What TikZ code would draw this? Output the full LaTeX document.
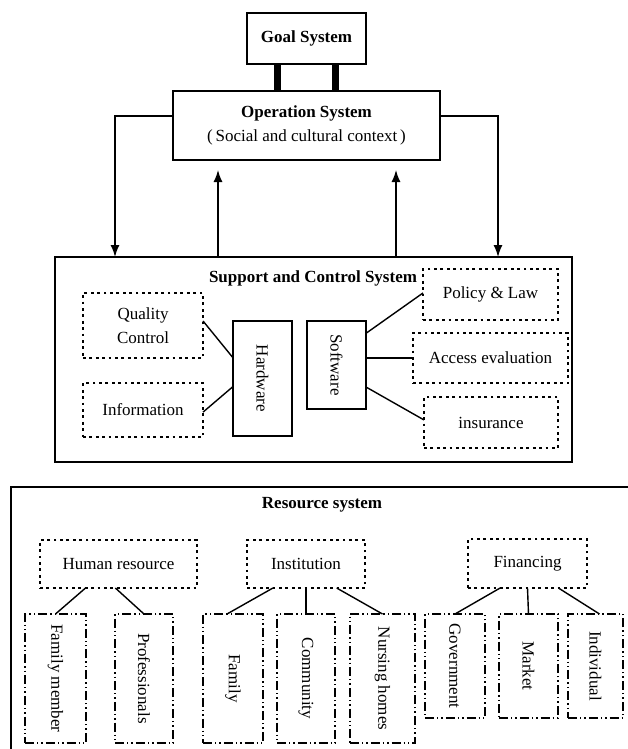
\documentclass[tikz,border=0pt]{standalone}
\usepackage{fontspec}
\setmainfont{Liberation Serif}
\usetikzlibrary{arrows.meta,calc}
\tikzset{
  every node/.style={font=\fontsize{17}{24}\selectfont, inner sep=0pt, outer sep=0pt},
  solidbox/.style={draw, line width=1.5pt},
  dotbox/.style={draw, line width=2.8pt, dash pattern=on 2.8pt off 3.6pt, align=center},
  ddbox/.style={draw, line width=1.4pt, dash pattern=on 9pt off 3pt on 1.4pt off 3pt on 1.4pt off 3pt},
  link/.style={line width=1.4pt},
  arr/.style={line width=1.4pt, -{Latex[length=12pt,width=9pt]}},
  bar/.style={line width=7pt},
}
\begin{document}
\begin{tikzpicture}[x=1pt,y=-1pt]
\useasboundingbox (0,0) rectangle (628,749);
% top
\node[solidbox, minimum width=119, minimum height=51] (goal) at (306.5,38.5) {\textbf{Goal System}};
\node[solidbox, minimum width=267, minimum height=69, align=center] (op) at (306.5,125.5)
  {\textbf{Operation System}\\(\,Social and cultural context\,)};
\draw[bar] ($(goal.south)+(-29.5,0)$) -- ($(op.north)+(-29.5,0)$);
\draw[bar] ($(goal.south)+(28.5,0)$) -- ($(op.north)+(28.5,0)$);
% support
\node[solidbox, minimum width=517, minimum height=205] (sup) at (313.5,359.5) {};
\node[font=\fontsize{17}{24}\selectfont\bfseries] (suptitle) at (313,278) {Support and Control System};
\node[dotbox, minimum width=120, minimum height=65] (qc) at (143,325.5) {Quality\\Control};
\node[dotbox, minimum width=120, minimum height=54] (info) at (143,410) {Information};
\node[solidbox, minimum width=59, minimum height=115] (hw) at (262.5,378.5) {\rotatebox{-90}{Hardware}};
\node[solidbox, minimum width=59, minimum height=88] (sw) at (336.5,365) {\rotatebox{-90}{Software}};
\node[dotbox, minimum width=135, minimum height=51] (pol) at (490.5,294.5) {Policy \& Law};
\node[dotbox, minimum width=155, minimum height=50] (acc) at (490.5,358) {Access evaluation};
\node[dotbox, minimum width=134, minimum height=51] (ins) at (491,422.5) {insurance};
\draw[link] ($(qc.north east)!0.43!(qc.south east)$) -- ($(hw.north west)!0.32!(hw.south west)$);
\draw[link] ($(info.north east)!0.54!(info.south east)$) -- ($(hw.north west)!0.57!(hw.south west)$);
\draw[link] ($(sw.north east)!0.14!(sw.south east)$) -- ($(pol.north west)!0.47!(pol.south west)$);
\draw[link] (acc.west -| sw.east) -- (acc.west);
\draw[link] ($(sw.north east)!0.75!(sw.south east)$) -- ($(ins.north west)!0.45!(ins.south west)$);
% arrows
\coordinate (opL) at ($(op.north west)!0.36!(op.south west)$);
\coordinate (opR) at ($(op.north east)!0.36!(op.south east)$);
\coordinate (supL) at ($(sup.north west)+(60,0)$);
\coordinate (supR) at ($(sup.north west)+(443,0)$);
\coordinate (supU1) at ($(sup.north west)+(163,0)$);
\coordinate (supU2) at ($(sup.north west)+(341,0)$);
\coordinate (opB) at ($(op.south)+(0,10)$);
\draw[arr] (opL) -| (supL);
\draw[arr] (opR) -| (supR);
\draw[arr] (supU1) -- (supU1 |- opB);
\draw[arr] (supU2) -- (supU2 |- opB);
% resource
\coordinate (resTL) at (11,487);
\coordinate (resBL) at (11,749);
\coordinate (resTR) at (628,487);
\draw[line width=2pt] (resBL) -- (resTL) -- (resTR);
\draw[bar] ($(sup.south west)+(118,0)$) -- ($(sup.south west)+(118,0)$ |- resTL);
\draw[bar] ($(sup.south west)+(400,0)$) -- ($(sup.south west)+(400,0)$ |- resTL);
\node[font=\fontsize{17}{24}\selectfont\bfseries] (restitle) at (322,505) {Resource system};
\node[dotbox, minimum width=157, minimum height=48] (hr) at (118.5,564) {Human resource};
\node[dotbox, minimum width=118, minimum height=48] (inst) at (306,564) {Institution};
\node[dotbox, minimum width=119, minimum height=49] (fin) at (527.5,563.5) {Financing};
\node[ddbox, minimum width=61, minimum height=129] (fm) at (55.5,678.5) {\rotatebox{-90}{Family member}};
\node[ddbox, minimum width=58, minimum height=129] (prof) at (144,678.5) {\rotatebox{-90}{Professionals}};
\node[ddbox, minimum width=60, minimum height=129] (fam) at (233,678.5) {\rotatebox{-90}{Family}};
\node[ddbox, minimum width=58, minimum height=129] (com) at (306,678.5) {\rotatebox{-90}{Community}};
\node[ddbox, minimum width=65, minimum height=129] (nur) at (382.5,678.5) {\rotatebox{-90}{Nursing homes}};
\node[ddbox, minimum width=60, minimum height=104] (gov) at (455,666) {\rotatebox{-90}{Government}};
\node[ddbox, minimum width=59, minimum height=104] (mkt) at (528.5,666) {\rotatebox{-90}{Market}};
\node[ddbox, minimum width=55, minimum height=104] (ind) at (595.5,666) {\rotatebox{-90}{Individual}};
\draw[link] ($(hr.south west)!0.29!(hr.south east)$) -- (fm.north);
\draw[link] ($(hr.south west)!0.48!(hr.south east)$) -- (prof.north);
\draw[link] ($(inst.south west)!0.22!(inst.south east)$) -- ($(fam.north)+(-6,0)$);
\draw[link] (inst.south) -- (com.north);
\draw[link] ($(inst.south west)!0.76!(inst.south east)$) -- (nur.north);
\draw[link] ($(fin.south west)!0.27!(fin.south east)$) -- (gov.north);
\draw[link] (fin.south) -- (mkt.north);
\draw[link] ($(fin.south west)!0.76!(fin.south east)$) -- ($(ind.north)+(4,0)$);
\end{tikzpicture}
\end{document}
